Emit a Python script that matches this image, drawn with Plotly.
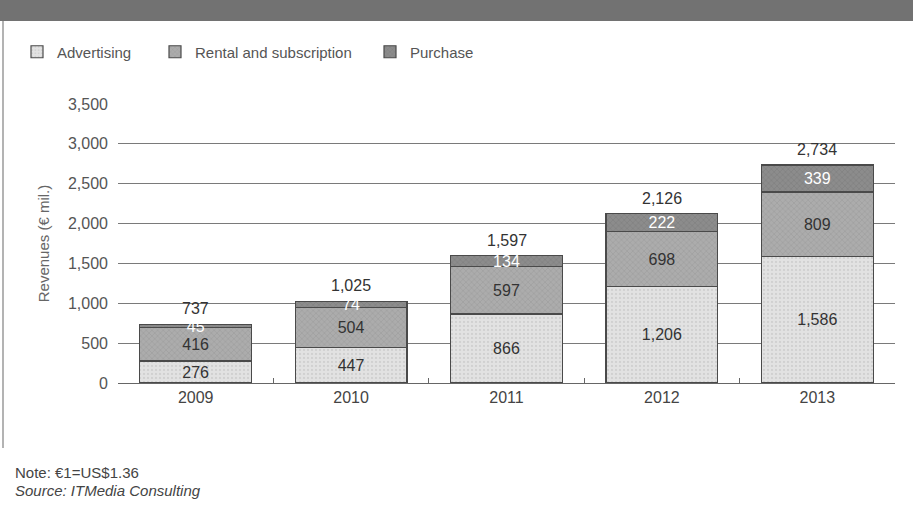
import plotly.graph_objects as go

years = ["2009", "2010", "2011", "2012", "2013"]
advertising = [276, 447, 866, 1206, 1586]
rental = [416, 504, 597, 698, 809]
purchase = [45, 74, 134, 222, 339]
totals = [737, 1025, 1597, 2126, 2734]
y_ticks = [0, 500, 1000, 1500, 2000, 2500, 3000, 3500]

FONT = "Liberation Sans, Arial, sans-serif"
W, H = 913, 515
L, R, T, B = 118, 18, 104, 132

def fmt(v):
    return f"{v:,}"

fig = go.Figure()

series = [
    ("Advertising", advertising, "#e2e2e2", ".", "#bdbdbd", "#333333", "legend"),
    ("Rental and subscription", rental, "#acacac", "x", "#8a8a8a", "#333333", "legend2"),
    ("Purchase", purchase, "#8c8c8c", "x", "#6c6c6c", "#ffffff", "legend3"),
]
for name, vals, col, shp, fg, tcol, leg in series:
    fig.add_trace(go.Bar(
        x=years, y=vals, name=name, legend=leg,
        marker=dict(color=col, line=dict(color="#4a4a4a", width=1.2),
                    pattern=dict(shape=shp, fgcolor=fg, size=4, solidity=0.25)),
        text=[fmt(v) for v in vals], textposition="inside", insidetextanchor="middle",
        textangle=0, constraintext="none",
        textfont=dict(color=tcol, size=16, family=FONT),
    ))

pw = W - L - R
ph = H - T - B
def px_x(p):
    return (p - L) / pw
def px_y(p):
    return (H - B - p) / ph

shapes = [
    dict(type="rect", xref="paper", yref="paper",
         x0=px_x(0), x1=px_x(W), y0=px_y(21), y1=px_y(0),
         fillcolor="#727272", line=dict(width=0), layer="below"),
    dict(type="line", xref="paper", yref="paper",
         x0=px_x(3), x1=px_x(3), y0=px_y(21), y1=px_y(448),
         line=dict(color="#9a9a9a", width=1.5)),
]

# totals above each stack (category index positions on the category axis)
annotations = [
    dict(x=i, y=tot, xref="x", yref="y", text=fmt(tot), showarrow=False,
         yanchor="bottom", yshift=5,
         font=dict(size=16, color="#333333", family=FONT))
    for i, tot in enumerate(totals)
]
annotations += [
    dict(text="Note: €1=US$1.36", xref="paper", yref="paper",
         x=px_x(13), y=px_y(472), xanchor="left", yanchor="middle", showarrow=False,
         font=dict(size=15, color="#444444", family=FONT)),
    dict(text="<i>Source: ITMedia Consulting</i>", xref="paper", yref="paper",
         x=px_x(13), y=px_y(490), xanchor="left", yanchor="middle", showarrow=False,
         font=dict(size=15, color="#444444", family=FONT)),
]

def legend_at(xpx):
    return dict(orientation="h", xref="container", yref="container",
                x=xpx / W, y=1 - 52 / H, xanchor="left", yanchor="middle",
                font=dict(size=15, color="#555555", family=FONT),
                itemwidth=30, bgcolor="rgba(0,0,0,0)")

fig.update_layout(
    width=W, height=H,
    margin=dict(l=L, r=R, t=T, b=B),
    barmode="stack", bargap=0.28,
    paper_bgcolor="white", plot_bgcolor="white",
    font=dict(family=FONT, color="#444444", size=15),
    uniformtext=dict(minsize=16, mode="show"),
    showlegend=True,
    legend=legend_at(17),
    legend2=legend_at(155),
    legend3=legend_at(370),
    shapes=shapes, annotations=annotations,
)
fig.update_xaxes(
    type="category", categoryarray=years, categoryorder="array",
    showgrid=False, showline=True, linecolor="#666666", linewidth=1,
    ticks="inside", tickson="boundaries", ticklen=5, tickcolor="#666666",
    tickfont=dict(size=16, color="#444444"),
)
fig.update_yaxes(
    range=[0, 3500], tickvals=y_ticks, tickformat=",d",
    showgrid=True, gridcolor="#7a7a7a", gridwidth=1, zeroline=False,
    tickfont=dict(size=16, color="#555555"), ticks="", showline=False,
    ticklabelstandoff=9,
    title=dict(text="Revenues (€ mil.)", font=dict(size=15, color="#666666"), standoff=14),
)

fig.write_html("out.html")
